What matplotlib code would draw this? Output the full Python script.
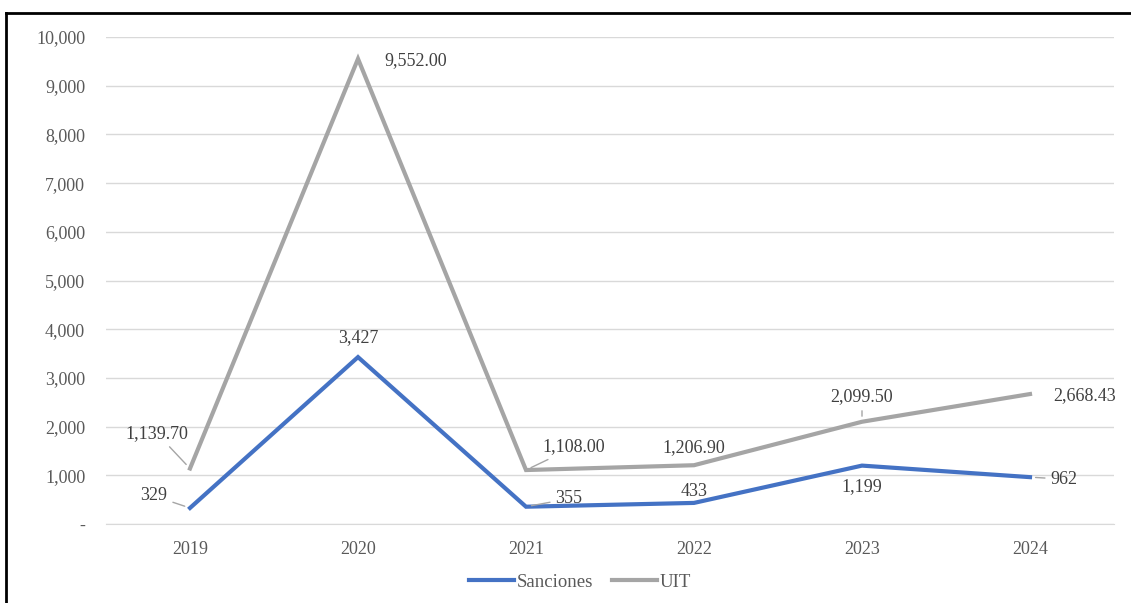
import matplotlib.pyplot as plt
from matplotlib.lines import Line2D

# Data
years = ['2019', '2020', '2021', '2022', '2023', '2024']
sanciones = [329, 3427, 355, 433, 1199, 962]
uit = [1139.70, 9552.00, 1108.00, 1206.90, 2099.50, 2668.43]

sanciones_labels = ['329', '3,427', '355', '433', '1,199', '962']
uit_labels = ['1,139.70', '9,552.00', '1,108.00', '1,206.90', '2,099.50', '2,668.43']

yticks = [0, 1000, 2000, 3000, 4000, 5000, 6000, 7000, 8000, 9000, 10000]
ytick_labels = ['-', '1,000', '2,000', '3,000', '4,000', '5,000',
                '6,000', '7,000', '8,000', '9,000', '10,000']

plt.rcParams['font.family'] = ['Liberation Serif', 'DejaVu Serif']

blue = '#4472C4'
gray = '#A5A5A5'
txt = '#404040'

fig = plt.figure(figsize=(11.31, 6.03), dpi=100)
ax = fig.add_axes([106 / 1131, 1 - 524 / 603, 1008 / 1131, 487 / 603])

x = list(range(len(years)))
ax.plot(x, sanciones, color=blue, linewidth=3, label='Sanciones', solid_joinstyle='miter', zorder=3)
ax.plot(x, uit, color=gray, linewidth=3, label='UIT', solid_joinstyle='miter', zorder=3)

ax.set_xlim(-0.5, len(years) - 0.5)
ax.set_ylim(0, 10000)
ax.set_xticks(x)
ax.set_xticklabels(years)
ax.set_yticks(yticks)
ax.set_yticklabels(ytick_labels)
ax.tick_params(axis='both', length=0, labelsize=13, colors='#595959')
ax.tick_params(axis='x', pad=12)
ax.tick_params(axis='y', pad=15)
ax.grid(True, axis='y', color='#D9D9D9', linewidth=1)
ax.set_axisbelow(True)
for s in ['top', 'right', 'left']:
    ax.spines[s].set_visible(False)
ax.spines['bottom'].set_color('#D9D9D9')

# label offsets in pixels (dx, dy) and whether a leader line is drawn
uit_offsets = [(-33, 35, True), (58, -2, False), (48, 23, True),
               (0, 18, False), (0, 25, True), (55, -2, False)]
san_offsets = [(-36, 12, True), (0, 20, False), (43, 8, True),
               (0, 11, False), (0, -21, False), (34, -2, True)]

def put_labels(vals, labels, offsets, lead_color):
    for i, (v, lab, (dx, dy, lead)) in enumerate(zip(vals, labels, offsets)):
        props = None
        if lead:
            props = dict(arrowstyle='-', color=lead_color, linewidth=1, shrinkA=2, shrinkB=4)
        ax.annotate(lab, xy=(i, v), xytext=(dx * 0.72, dy * 0.72),
                    textcoords='offset points', ha='center', va='center',
                    fontsize=13, color=txt, arrowprops=props, zorder=4)

put_labels(uit, uit_labels, uit_offsets, '#A5A5A5')
put_labels(sanciones, sanciones_labels, san_offsets, '#A5A5A5')

fig.legend(loc='center', bbox_to_anchor=(580 / 1131, 1 - 582 / 603), ncol=2,
           frameon=False, fontsize=13.5, handlelength=2.4, columnspacing=1.0,
           handletextpad=0.15, labelcolor='#595959')

# outer border (only left and top visible in the source)
fig.add_artist(Line2D([6 / 1131, 6 / 1131], [0, 1 - 13 / 603], color='black', linewidth=2))
fig.add_artist(Line2D([6 / 1131, 1], [1 - 13 / 603, 1 - 13 / 603], color='black', linewidth=2))

fig.savefig('out.png', dpi=100, facecolor='white')
